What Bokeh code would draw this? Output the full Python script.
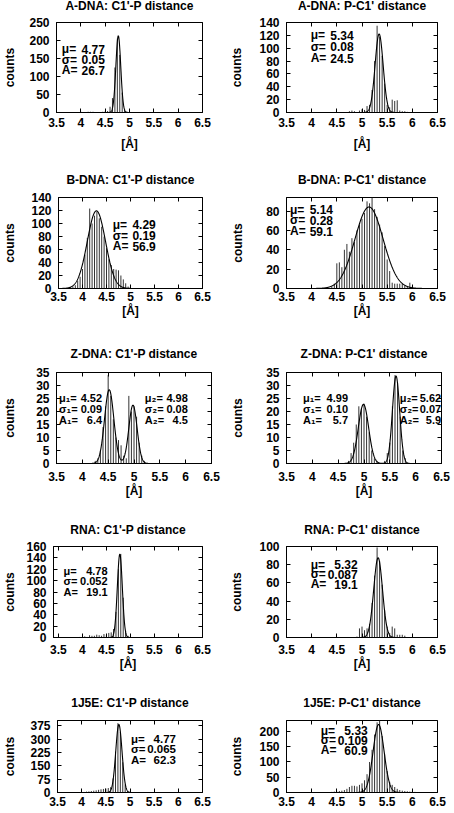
import numpy as np
from bokeh.plotting import figure
from bokeh.models import Range1d, FixedTicker, LinearAxis, Label, ColumnDataSource
from bokeh.layouts import column, row
from bokeh.embed import file_html
from bokeh.resources import INLINE

FONT = "Liberation Sans"
BIN = 0.05  # histogram bin width [Å]

x_ticks = [3.5, 4.0, 4.5, 5.0, 5.5, 6.0, 6.5]
x_tick_labels = ["3.5", "4", "4.5", "5", "5.5", "6", "6.5"]

titles = ["A-DNA: C1'-P distance", "A-DNA: P-C1' distance",
          "B-DNA: C1'-P distance", "B-DNA: P-C1' distance",
          "Z-DNA: C1'-P distance", "Z-DNA: P-C1' distance",
          "RNA: C1'-P distance", "RNA: P-C1' distance",
          "1J5E: C1'-P distance", "1J5E: P-C1' distance"]

# ---- histogram counts (first bin centre, counts per 0.05 Å bin) ----
adna_c1p_first = 4.00
adna_c1p_counts = [2, 0, 0, 2, 2, 2, 0, 0, 0, 2, 3, 4, 16, 40, 125, 205, 160, 55, 10, 2]
adna_pc1_first = 4.75
adna_pc1_counts = [2, 3, 2, 0, 3, 5, 4, 10, 12, 35, 80, 135, 118, 88, 45, 12, 8, 20, 18, 19, 3, 2, 2, 1]
bdna_c1p_first = 3.70
bdna_c1p_counts = [1, 2, 3, 5, 12, 18, 30, 52, 78, 123, 100, 112, 118, 108, 95, 80, 62, 45, 36, 30,
                   29, 28, 20, 14, 8, 3]
bdna_pc1_first = 4.40
bdna_pc1_counts = [2, 5, 26, 27, 22, 40, 46, 38, 52, 48, 60, 66, 72, 78, 90, 88, 94, 82, 74, 66,
                   58, 44, 30, 18, 6, 5, 5, 5, 5, 3, 2, 6, 2]
zdna_c1p_first = 4.25
zdna_c1p_counts = [1, 2, 5, 14, 22, 34, 26, 17, 10, 9, 7, 3, 2, 26, 20, 22, 18, 8, 3, 1]
zdna_pc1_first = 4.70
zdna_pc1_counts = [1, 4, 8, 15, 22, 21, 23, 18, 12, 5, 2, 1, 0, 0, 1, 4, 8, 22, 34, 31, 18, 5, 2]
rna_c1p_first = 3.95
rna_c1p_counts = [1, 0, 2, 1, 4, 3, 3, 5, 4, 3, 6, 4, 8, 9, 15, 45, 120, 147, 70, 12, 3, 1]
rna_pc1_first = 4.90
rna_pc1_counts = [1, 10, 12, 8, 10, 15, 38, 68, 99, 84, 58, 30, 12, 5, 12, 10, 3, 3, 3, 2]
j5e_c1p_first = 4.00
j5e_c1p_counts = [2, 3, 5, 6, 8, 10, 12, 15, 18, 20, 22, 25, 30, 80, 230, 390, 340, 170, 45, 8, 3]
j5e_pc1_first = 4.40
j5e_pc1_counts = [2, 3, 3, 5, 6, 8, 12, 18, 22, 22, 20, 25, 30, 40, 60, 100, 140, 190, 230, 236,
                  185, 125, 70, 35, 25, 18, 12, 8, 6, 5, 4, 3, 3, 2, 1]

# ---- Gaussian fit parameters ----
adna_c1p_mu, adna_c1p_sigma, adna_c1p_amp = [4.77], [0.05], [26.7]
adna_pc1_mu, adna_pc1_sigma, adna_pc1_amp = [5.34], [0.08], [24.5]
bdna_c1p_mu, bdna_c1p_sigma, bdna_c1p_amp = [4.29], [0.19], [56.9]
bdna_pc1_mu, bdna_pc1_sigma, bdna_pc1_amp = [5.14], [0.28], [59.1]
zdna_c1p_mu, zdna_c1p_sigma, zdna_c1p_amp = [4.52, 4.98], [0.09, 0.08], [6.4, 4.5]
zdna_pc1_mu, zdna_pc1_sigma, zdna_pc1_amp = [4.99, 5.62], [0.10, 0.07], [5.7, 5.9]
rna_c1p_mu, rna_c1p_sigma, rna_c1p_amp = [4.78], [0.052], [19.1]
rna_pc1_mu, rna_pc1_sigma, rna_pc1_amp = [5.32], [0.087], [19.1]
j5e_c1p_mu, j5e_c1p_sigma, j5e_c1p_amp = [4.77], [0.065], [62.3]
j5e_pc1_mu, j5e_pc1_sigma, j5e_pc1_amp = [5.33], [0.109], [60.9]

# ---- fit annotation texts ----
adna_c1p_text = [[("μ=", "4.77"), ("σ=", "0.05"), ("A=", "26.7")]]
adna_pc1_text = [[("μ=", "5.34"), ("σ=", "0.08"), ("A=", "24.5")]]
bdna_c1p_text = [[("μ=", "4.29"), ("σ=", "0.19"), ("A=", "56.9")]]
bdna_pc1_text = [[("μ=", "5.14"), ("σ=", "0.28"), ("A=", "59.1")]]
zdna_c1p_text = [[("μ₁=", "4.52"), ("σ₁=", "0.09"), ("A₁=", "6.4")],
                 [("μ₂=", "4.98"), ("σ₂=", "0.08"), ("A₂=", "4.5")]]
zdna_pc1_text = [[("μ₁=", "4.99"), ("σ₁=", "0.10"), ("A₁=", "5.7")],
                 [("μ₂=", "5.62"), ("σ₂=", "0.07"), ("A₂=", "5.9")]]
rna_c1p_text = [[("μ=", "4.78"), ("σ=", "0.052"), ("A=", "19.1")]]
rna_pc1_text = [[("μ=", "5.32"), ("σ=", "0.087"), ("A=", "19.1")]]
j5e_c1p_text = [[("μ=", "4.77"), ("σ=", "0.065"), ("A=", "62.3")]]
j5e_pc1_text = [[("μ=", "5.33"), ("σ=", "0.109"), ("A=", "60.9")]]

# ---- y axes ----
adna_c1p_yticks, adna_c1p_ymax = [0, 50, 100, 150, 200, 250], 250
adna_pc1_yticks, adna_pc1_ymax = [0, 20, 40, 60, 80, 100, 120, 140], 140
bdna_c1p_yticks, bdna_c1p_ymax = [0, 20, 40, 60, 80, 100, 120, 140], 140
bdna_pc1_yticks, bdna_pc1_ymax = [0, 20, 40, 60, 80], 94
zdna_c1p_yticks, zdna_c1p_ymax = [0, 5, 10, 15, 20, 25, 30, 35], 35
zdna_pc1_yticks, zdna_pc1_ymax = [0, 5, 10, 15, 20, 25, 30, 35], 35
rna_c1p_yticks, rna_c1p_ymax = [0, 20, 40, 60, 80, 100, 120, 140, 160], 160
rna_pc1_yticks, rna_pc1_ymax = [0, 20, 40, 60, 80, 100], 100
j5e_c1p_yticks, j5e_c1p_ymax = [0, 75, 150, 225, 300, 375], 405
j5e_pc1_yticks, j5e_pc1_ymax = [0, 50, 100, 150, 200], 236

data = [
    (adna_c1p_first, adna_c1p_counts, adna_c1p_mu, adna_c1p_sigma, adna_c1p_amp, adna_c1p_text, adna_c1p_yticks, adna_c1p_ymax),
    (adna_pc1_first, adna_pc1_counts, adna_pc1_mu, adna_pc1_sigma, adna_pc1_amp, adna_pc1_text, adna_pc1_yticks, adna_pc1_ymax),
    (bdna_c1p_first, bdna_c1p_counts, bdna_c1p_mu, bdna_c1p_sigma, bdna_c1p_amp, bdna_c1p_text, bdna_c1p_yticks, bdna_c1p_ymax),
    (bdna_pc1_first, bdna_pc1_counts, bdna_pc1_mu, bdna_pc1_sigma, bdna_pc1_amp, bdna_pc1_text, bdna_pc1_yticks, bdna_pc1_ymax),
    (zdna_c1p_first, zdna_c1p_counts, zdna_c1p_mu, zdna_c1p_sigma, zdna_c1p_amp, zdna_c1p_text, zdna_c1p_yticks, zdna_c1p_ymax),
    (zdna_pc1_first, zdna_pc1_counts, zdna_pc1_mu, zdna_pc1_sigma, zdna_pc1_amp, zdna_pc1_text, zdna_pc1_yticks, zdna_pc1_ymax),
    (rna_c1p_first, rna_c1p_counts, rna_c1p_mu, rna_c1p_sigma, rna_c1p_amp, rna_c1p_text, rna_c1p_yticks, rna_c1p_ymax),
    (rna_pc1_first, rna_pc1_counts, rna_pc1_mu, rna_pc1_sigma, rna_pc1_amp, rna_pc1_text, rna_pc1_yticks, rna_pc1_ymax),
    (j5e_c1p_first, j5e_c1p_counts, j5e_c1p_mu, j5e_c1p_sigma, j5e_c1p_amp, j5e_c1p_text, j5e_c1p_yticks, j5e_c1p_ymax),
    (j5e_pc1_first, j5e_pc1_counts, j5e_pc1_mu, j5e_pc1_sigma, j5e_pc1_amp, j5e_pc1_text, j5e_pc1_yticks, j5e_pc1_ymax),
]

# ---- layout / styling (pixels, not data) ----
# rows: (height, border top, border bottom, title standoff, x tick standoff, x label standoff, show x label)
rows_style = [(173, 40, 43, 20, 5, 7, True),
              (173, 42, 40, 22, 3, 0, True),
              (178, 44, 43, 24, 8, 0, True),
              (172, 40, 41, 20, 7, 0, True),
              (135, 42, 21, 22, 4, 0, False)]
TOP_SHIFT = -18
# panels: (border left, border right, x min, y-label standoff, text size,
#          annotation blocks [(x, y, dy px, value right px)])
panel_style = [
    (51, 25, 3.5, 9, "12px", [(3.61, 176, 10.5, 43)]),
    (59, 17, 3.5, 12, "12px", [(3.98, 120, 11.5, 43)]),
    (53, 25, 3.5, 11, "12px", [(4.63, 98, 10.7, 43)]),
    (59, 17, 3.5, 18, "12px", [(3.57, 81.5, 10.7, 43)]),
    (52, 16, 3.5, 16, "11px", [(3.55, 25.2, 10.8, 43), (5.21, 25.2, 10.8, 43)]),
    (59, 13, 3.5, 18, "11px", [(3.82, 25.2, 10.8, 45), (5.69, 25.2, 10.8, 41.5)]),
    (47, 25, 3.4, 6, "11px", [(3.61, 116.7, 10.2, 44)]),
    (59, 17, 3.5, 12, "12px", [(3.98, 80, 9.7, 47)]),
    (52, 25, 3.5, 10, "11.5px", [(5.02, 302, 10.5, 45)]),
    (59, 17, 3.5, 12, "12px", [(4.18, 202.5, 9.7, 47)]),
]


def style_axis(ax, standoff):
    ax.major_label_text_font = FONT
    ax.major_label_text_font_size = "12px"
    ax.major_label_text_font_style = "bold"
    ax.major_label_text_color = "black"
    ax.major_label_standoff = standoff
    ax.major_tick_in = 4
    ax.major_tick_out = 0
    ax.minor_tick_in = 0
    ax.minor_tick_out = 0
    ax.major_tick_line_color = "black"
    ax.axis_line_color = "black"
    ax.axis_label_text_font = FONT
    ax.axis_label_text_font_size = "12px"
    ax.axis_label_text_font_style = "bold"
    ax.axis_label_text_color = "black"


def mirror_axis(ticks):
    return LinearAxis(ticker=FixedTicker(ticks=ticks),
                      major_label_overrides={float(t): "" for t in ticks},
                      major_label_text_font_size="0px", major_label_standoff=0,
                      major_tick_in=4, major_tick_out=0, minor_tick_in=0, minor_tick_out=0,
                      axis_line_color=None, major_tick_line_color="black")


figs = []
for i, (first, counts, mus, sigmas, amps, texts, yticks, ymax) in enumerate(data):
    h, bt, bb, title_so, xtick_so, xlab_so, show_xlab = rows_style[i // 2]
    bl, br, xmin, ylab_so, tsize, ann = panel_style[i]
    kw = dict(x_axis_label="[Å]") if show_xlab else {}
    p = figure(width=227, height=h, output_backend="svg", toolbar_location=None,
               x_range=Range1d(xmin, 6.5), y_range=Range1d(0, ymax),
               min_border_left=bl, min_border_right=br,
               min_border_top=bt, min_border_bottom=bb,
               title=titles[i], y_axis_label="counts", **kw)
    p.grid.visible = False
    p.outline_line_color = "black"
    p.outline_line_alpha = 1.0
    p.background_fill_color = "white"
    p.border_fill_color = "white"
    p.title.text_font = FONT
    p.title.text_font_size = "12px"
    p.title.text_font_style = "bold"
    p.title.text_color = "black"
    p.title.align = "center"
    p.title.standoff = title_so

    xa = p.below[0]
    ya = p.left[0]
    xa.ticker = FixedTicker(ticks=x_ticks)
    xa.major_label_overrides = {float(t): lab for t, lab in zip(x_ticks, x_tick_labels)}
    ya.ticker = FixedTicker(ticks=yticks)
    style_axis(xa, xtick_so)
    style_axis(ya, 7)
    xa.axis_label_standoff = xlab_so
    ya.axis_label_standoff = ylab_so
    p.add_layout(mirror_axis(x_ticks), "above")
    p.add_layout(mirror_axis(yticks), "right")

    # histogram drawn as impulses
    xc = np.round(first + BIN * np.arange(len(counts)), 3)
    src = ColumnDataSource(dict(x=xc, c=counts))
    p.segment(x0="x", y0=0, x1="x", y1="c", source=src, line_color="#333333", line_width=1)

    # Gaussian fit curve from the fitted parameters
    xs = np.linspace(xmin, 6.5, 901)
    ys = np.zeros_like(xs)
    for m, s, a in zip(mus, sigmas, amps):
        ys += a / (s * np.sqrt(2 * np.pi)) * np.exp(-(xs - m) ** 2 / (2 * s * s))
    p.line(xs, ys, line_color="black", line_width=1.1)

    for (ax_, ay, dy, wv), lines in zip(ann, texts):
        for k, (pre, val) in enumerate(lines):
            common = dict(x=ax_, y=ay, y_offset=-dy * k, text_font=FONT, text_font_size=tsize,
                          text_font_style="bold", text_color="black", text_baseline="middle")
            p.add_layout(Label(text=pre, text_align="left", **common))
            p.add_layout(Label(text=val, text_align="right", x_offset=wv, **common))
    figs.append(p)

root = column(*[row(figs[2 * r], figs[2 * r + 1]) for r in range(5)], margin=(TOP_SHIFT, 0, 0, 0))
open("out.html", "w").write(file_html(root, INLINE))
